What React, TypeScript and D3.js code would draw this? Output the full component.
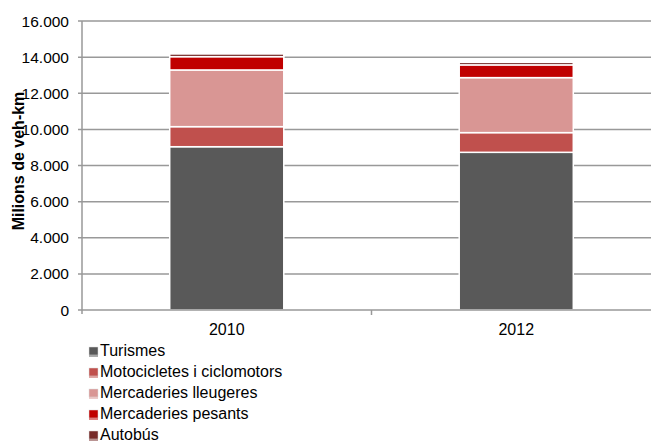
import React from "react";
import * as d3 from "d3";

const categories = ["2010", "2012"];
const seriesNames = ["Turismes", "Motocicletes i ciclomotors", "Mercaderies lleugeres", "Mercaderies pesants", "Autobús"];
const turismes = [9040, 8730];
const motocicletes = [1110, 1090];
const lleugeres = [3140, 3045];
const pesants = [735, 705];
const autobus = [150, 140];
const yTicks = [0, 2000, 4000, 6000, 8000, 10000, 12000, 14000, 16000];
const colors = ["#595959", "#C0504D", "#D99694", "#C00000", "#772C2A"];

const W = 651, H = 441;
const FONT = "'Liberation Sans', Arial, sans-serif";

export default function App() {
  const seriesValues = [turismes, motocicletes, lleugeres, pesants, autobus];
  const rows = categories.map((c, i) => {
    const r: any = { cat: c };
    seriesNames.forEach((s, k) => (r[s] = seriesValues[k][i]));
    return r;
  });
  const stack = d3.stack<any>().keys(seriesNames)(rows);

  const x = d3.scaleBand<string>().domain(categories).range([82, 661]).paddingInner(0.606).paddingOuter(0.303);
  const y = d3.scaleLinear().domain([0, 16000]).range([310, 21]);
  const fmt = (v: number) => (v === 0 ? "0" : d3.format(",.3f")(v / 1000).replace(",", ""));

  return (
    <svg width={W} height={H} style={{ position: "absolute", left: 0, top: 0, background: "#fff" }} fontFamily={FONT}>
      <rect x={0} y={0} width={W} height={H} fill="#fff" />
      {yTicks.map((t) => (
        <g key={t}>
          {t > 0 && <line x1={78} x2={W} y1={y(t)} y2={y(t)} stroke="#999" strokeWidth={1.5} />}
          {t === 0 && <line x1={78} x2={82} y1={y(t)} y2={y(t)} stroke="#999" strokeWidth={1.5} />}
          <text x={69} y={y(t) + 5.5} textAnchor="end" fontSize={15.5} fill="#000">
            {fmt(t)}
          </text>
        </g>
      ))}
      {stack.map((s, k) => (
        <g key={s.key} fill={colors[k]}>
          {s.map((d, i) => (
            <rect
              key={i}
              x={x(categories[i])!}
              y={y(d[1])}
              width={x.bandwidth()}
              height={y(d[0]) - y(d[1])}
              stroke="#fff"
              strokeWidth={1.5}
            />
          ))}
        </g>
      ))}
      <line x1={82} x2={82} y1={21} y2={314} stroke="#999" strokeWidth={1.5} />
      <line x1={82} x2={W} y1={310} y2={310} stroke="#999" strokeWidth={1.5} />
      <line x1={371.5} x2={371.5} y1={310} y2={315} stroke="#999" strokeWidth={1.5} />
      {categories.map((c) => (
        <text key={c} x={x(c)! + x.bandwidth() / 2} y={335} textAnchor="middle" fontSize={16} fill="#000">
          {c}
        </text>
      ))}
      <text
        transform={`translate(24,161) rotate(-90)`}
        textAnchor="middle"
        fontSize={16}
        fontWeight="bold"
        fill="#000"
      >
        Milions de veh-km
      </text>
      {seriesNames.map((s, k) => {
        const by = 356 + k * 21;
        return (
          <g key={s}>
            <rect x={89} y={by - 9} width={9} height={8} fill={colors[k]} stroke="#ddd" strokeWidth={0.5} />
            <line x1={89} x2={98} y1={by} y2={by} stroke={colors[k]} strokeWidth={1} />
            <text x={100} y={by} fontSize={16} fill="#000">
              {s}
            </text>
          </g>
        );
      })}
    </svg>
  );
}
